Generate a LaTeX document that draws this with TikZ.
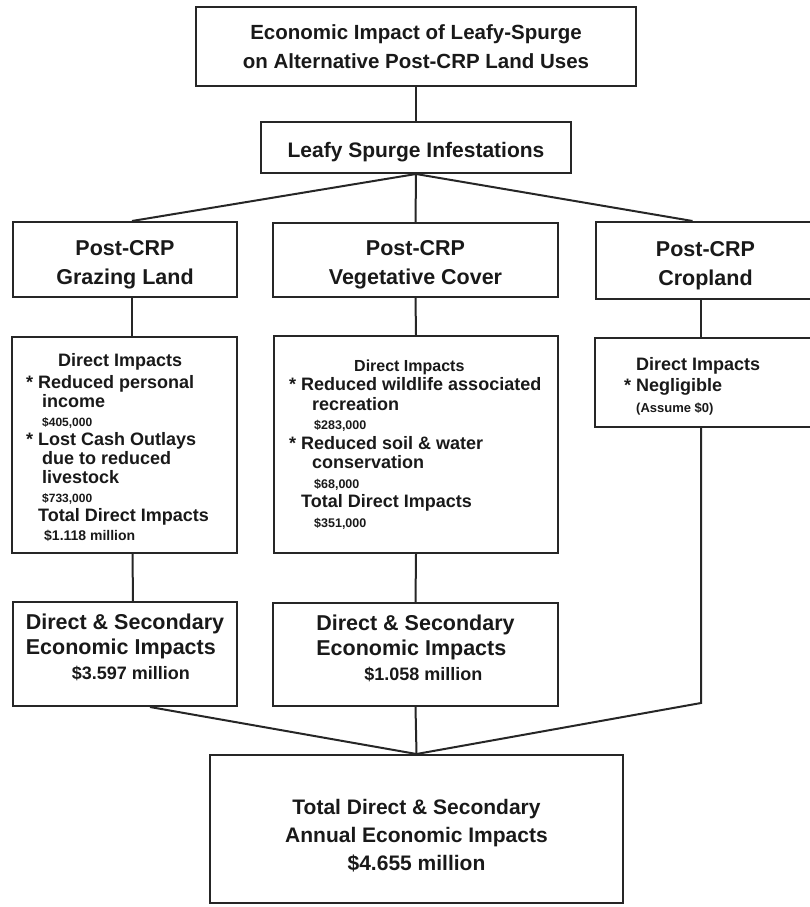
\documentclass[tikz,border=0pt]{standalone}
\usepackage{fontspec}
\setmainfont{Liberation Sans}

\begin{document}
\begin{tikzpicture}[x=1pt,y=-1pt,
    caixa/.style={draw=black!85, line width=2pt, inner sep=0pt, text=black!90},
    liga/.style={draw=black!85, line width=2pt},
    texto/.style={inner sep=0pt, align=left, text=black!90},
    grande/.style={font=\fontsize{21.5pt}{29pt}\selectfont\bfseries},
    pequeno/.style={font=\fontsize{18pt}{19pt}\selectfont\bfseries}]
    \useasboundingbox (0,0) rectangle (809,907);

    % Titulo
    \node[caixa, minimum width=440pt, minimum height=79pt, align=center,
          font=\fontsize{20.5pt}{29.5pt}\selectfont\bfseries] (titulo) at (416,46.5)
          {Economic Impact of Leafy-Spurge\\on Alternative Post-CRP Land Uses};
    \node[caixa, minimum width=310pt, minimum height=51pt, text height=23.5pt,
          font=\fontsize{21pt}{25pt}\selectfont\bfseries] (infest) at (416,147.5)
          {Leafy Spurge Infestations};

    % Usos do solo
    \node[caixa, grande, minimum width=224pt, minimum height=75pt, text height=54pt, align=center] (pastagem) at (125,259.5) {Post-CRP\\Grazing Land};
    \node[caixa, grande, minimum width=285pt, minimum height=74pt, text height=54pt, align=center] (cobertura) at (415.5,260) {Post-CRP\\Vegetative Cover};
    \node[caixa, grande, minimum width=219pt, minimum height=77pt, text height=54pt, align=center] (lavoura) at (705.5,260.5) {Post-CRP\\Cropland};

    % Impactos diretos
    \node[caixa, minimum width=225pt, minimum height=216pt] (pastdir) at (124.5,445) {};
    \node[caixa, minimum width=284pt, minimum height=217pt] (cobdir) at (416,444.5) {};
    \node[caixa, minimum width=220pt, minimum height=89pt] (lavdir) at (705,382.5) {};

    \node[texto, pequeno, anchor=west] (pastdirtxt) at ([xshift=27pt,yshift=-2pt]pastdir.west)
      {\hspace*{20pt}Direct Impacts\\[3pt]
       \llap{* }Reduced personal\\
       \hspace*{4pt}income\\
       \hspace*{4pt}{\fontsize{12pt}{19pt}\selectfont \$405,000}\\
       \llap{* }Lost Cash Outlays\\
       \hspace*{4pt}due to reduced\\
       \hspace*{4pt}livestock\\
       \hspace*{4pt}{\fontsize{12pt}{19pt}\selectfont \$733,000}\\
       Total Direct Impacts\\
       \hspace*{6pt}{\fontsize{14pt}{19pt}\selectfont \$1.118 million}};
    \node[texto, font=\fontsize{18pt}{19.5pt}\selectfont\bfseries, anchor=west] (cobdirtxt) at ([xshift=28pt]cobdir.west)
      {\hspace*{53pt}{\fontsize{16pt}{19.5pt}\selectfont Direct Impacts}\\
       \llap{* }Reduced wildlife associated\\
       \hspace*{11pt}recreation\\
       \hspace*{13pt}{\fontsize{12.5pt}{19.5pt}\selectfont \$283,000}\\
       \llap{* }Reduced soil \& water\\
       \hspace*{11pt}conservation\\
       \hspace*{13pt}{\fontsize{12.5pt}{19.5pt}\selectfont \$68,000}\\
       Total Direct Impacts\\
       \hspace*{13pt}{\fontsize{12.5pt}{19.5pt}\selectfont \$351,000}};
    \node[texto, font=\fontsize{18pt}{21pt}\selectfont\bfseries, anchor=west] (lavdirtxt) at ([xshift=42pt,yshift=-4pt]lavdir.west)
      {Direct Impacts\\
       \llap{* }Negligible\\
       {\fontsize{13pt}{21pt}\selectfont (Assume \$0)}};

    % Impactos diretos e secundarios
    \node[caixa, font=\fontsize{21.5pt}{25pt}\selectfont\bfseries, minimum width=224pt, minimum height=104pt, text depth=14pt, align=left] (pastsec) at (125,654)
      {Direct \& Secondary\\Economic Impacts\\\hspace*{46pt}{\fontsize{18pt}{25pt}\selectfont \$3.597 million}};
    \node[caixa, font=\fontsize{21.5pt}{25pt}\selectfont\bfseries, minimum width=285pt, minimum height=103pt, text depth=14pt, align=left] (cobsec) at (415.5,654.5)
      {Direct \& Secondary\\Economic Impacts\\\hspace*{48pt}{\fontsize{18pt}{25pt}\selectfont \$1.058 million}};

    % Total
    \node[caixa, minimum width=413pt, minimum height=148pt, text height=85pt, align=center,
          font=\fontsize{21pt}{28pt}\selectfont\bfseries] (total) at (416.5,829)
          {Total Direct \& Secondary\\Annual Economic Impacts\\\$4.655 million};

    % Ligacoes
    \coordinate (dobra) at (701,703);
    \draw[liga] (titulo.south) -- (infest.north);
    \draw[liga] (infest.south) -- ([xshift=7pt]pastagem.north);
    \draw[liga] (infest.south) -- (cobertura.north);
    \draw[liga] (infest.south) -- ([xshift=-13pt]lavoura.north);
    \draw[liga] ([xshift=7pt]pastagem.south) -- ([xshift=7.5pt]pastdir.north);
    \draw[liga] (cobertura.south) -- (cobdir.north);
    \draw[liga] ([xshift=-4.5pt]lavoura.south) -- ([xshift=-4pt]lavdir.north);
    \draw[liga] ([xshift=8pt]pastdir.south) -- ([xshift=8pt]pastsec.north);
    \draw[liga] (cobdir.south) -- (cobsec.north);
    \draw[liga] ([xshift=25pt]pastsec.south) -- (total.north);
    \draw[liga] (cobsec.south) -- (total.north);
    \draw[liga] ([xshift=-4pt]lavdir.south) -- (dobra) -- (total.north);
\end{tikzpicture}
\end{document}
